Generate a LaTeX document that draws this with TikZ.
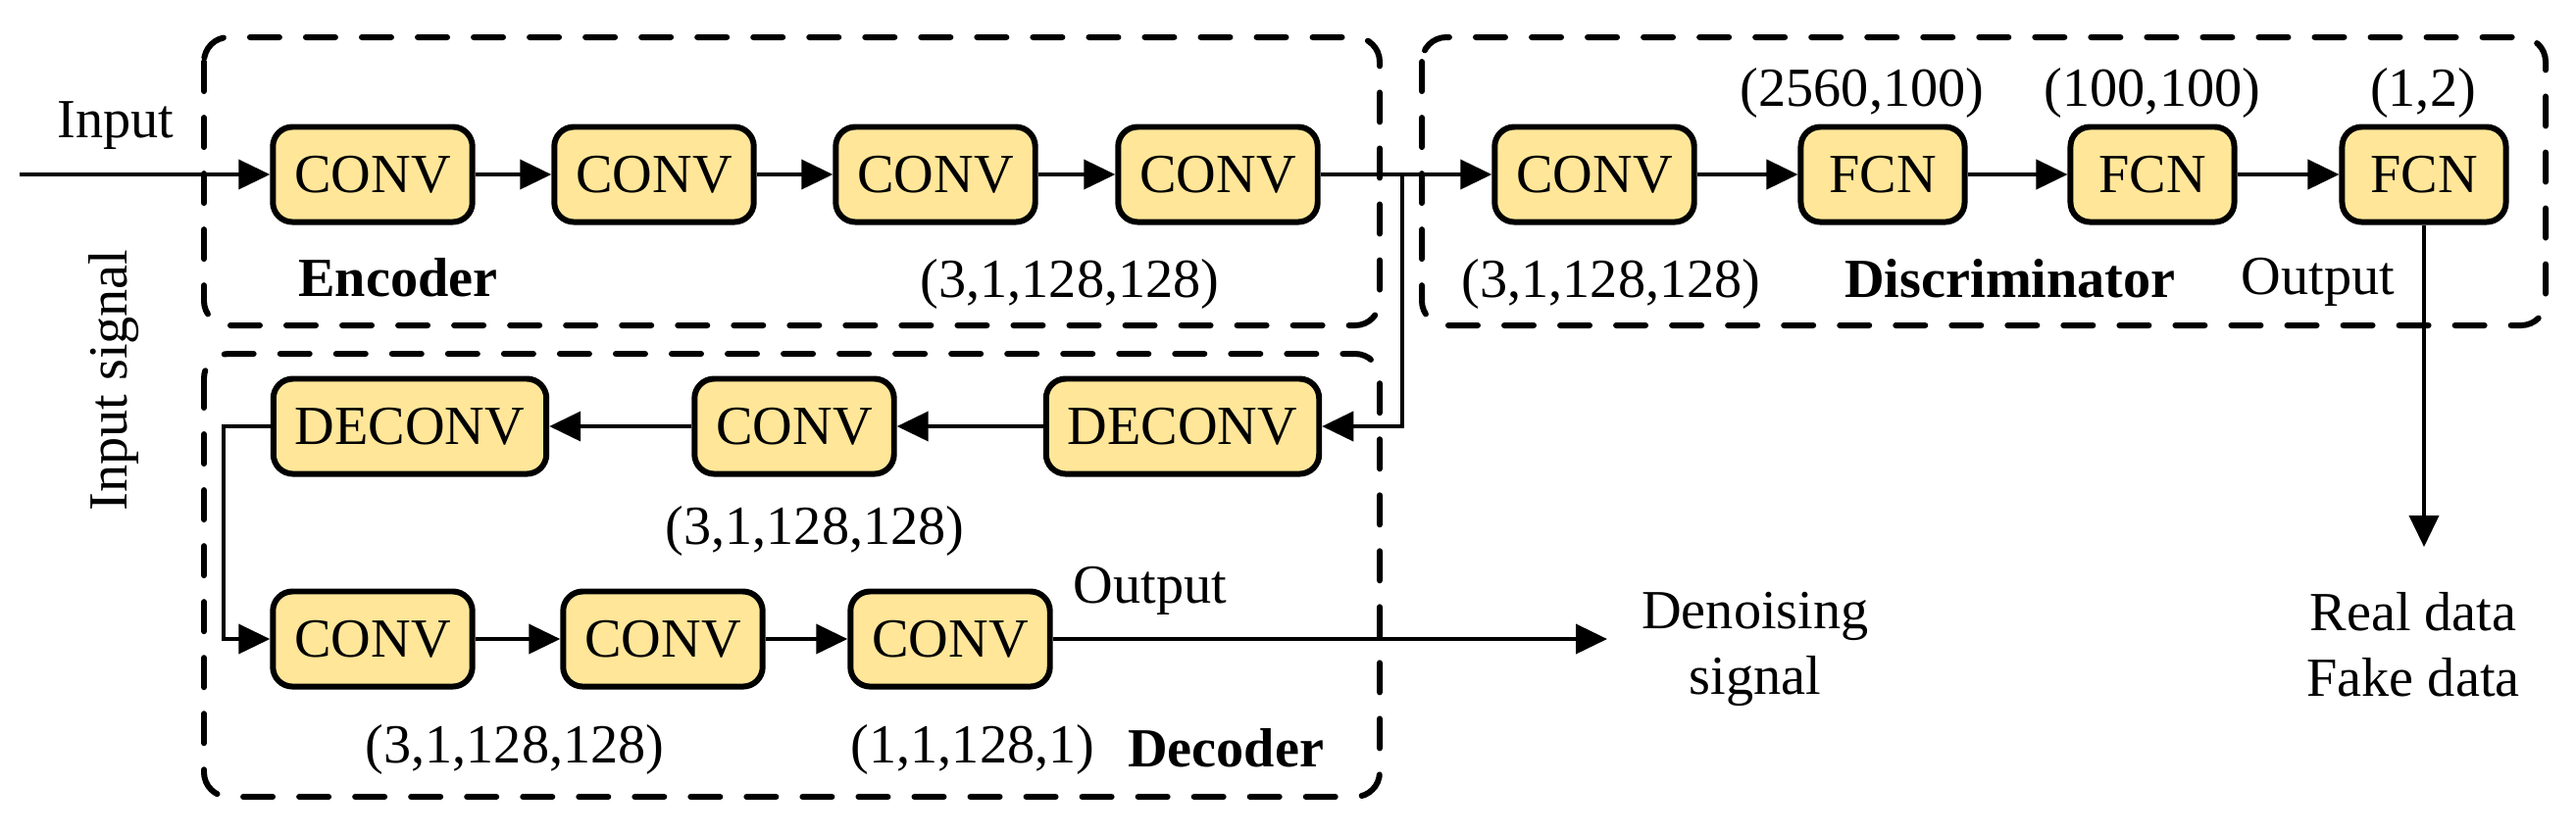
\documentclass[tikz,border=0pt]{standalone}
\usepackage{fontspec}
\setmainfont{Liberation Serif}
\usetikzlibrary{arrows.meta}
\definecolor{boxfill}{RGB}{255,230,153}
\begin{document}
\begin{tikzpicture}[x=0.01cm,y=-0.01cm,
  blk/.style={draw, line width=1.7pt, rounded corners=0.2cm, fill=boxfill, minimum height=0.97cm, inner xsep=0.22cm, inner ysep=0pt, font=\fontsize{16}{19}\selectfont},
  fcn/.style={blk, minimum width=1.67cm},
  grp/.style={draw, line width=1.7pt, dash pattern=on 0.3cm off 0.27cm, line cap=round, rounded corners=0.25cm},
  con/.style={line width=1.1pt, -{Triangle[length=0.32cm,width=0.3cm]}},
  lbl/.style={inner sep=0pt, anchor=base, font=\fontsize{16}{19}\selectfont},
  blbl/.style={lbl, font=\fontsize{16}{19}\selectfont\bfseries}]
\useasboundingbox (0,0) rectangle (2627,850);
% groups
\draw[grp] (208,38) rectangle (1407,332);
\draw[grp] (1450,38) rectangle (2596,332);
\draw[grp] (208,361) rectangle (1407,813);
% encoder
\node[blk] (e1) at (380,178) {CONV};
\node[blk] (e2) at (667,178) {CONV};
\node[blk] (e3) at (954,178) {CONV};
\node[blk] (e4) at (1242,178) {CONV};
% discriminator
\node[blk] (dc) at (1626,178) {CONV};
\node[fcn] (f1) at (1920,178) {FCN};
\node[fcn] (f2) at (2195,178) {FCN};
\node[fcn] (f3) at (2472,178) {FCN};
% decoder
\node[blk] (r1a) at (1206,435) {DECONV};
\node[blk] (r1b) at (810,435) {CONV};
\node[blk] (r1c) at (418,435) {DECONV};
\node[blk] (r2a) at (380,652) {CONV};
\node[blk] (r2b) at (676,652) {CONV};
\node[blk] (r2c) at (969,652) {CONV};
% coordinates
\coordinate (in) at (20,178);
\coordinate (br) at (1430,178);
\coordinate (out) at (1639,652);
\coordinate (rf) at (2472,558);
% connectors
\draw[con] (in) -- (e1);
\draw[con] (e1) -- (e2);
\draw[con] (e2) -- (e3);
\draw[con] (e3) -- (e4);
\draw[con] (e4) -- (dc);
\draw[con] (br) |- (r1a.east);
\draw[con] (dc) -- (f1);
\draw[con] (f1) -- (f2);
\draw[con] (f2) -- (f3);
\draw[con] (f3) -- (rf);
\draw[con] (r1a) -- (r1b);
\draw[con] (r1b) -- (r1c);
\draw[con] (r1c.west) -- ++(-48,0) |- (r2a.west);
\draw[con] (r2a) -- (r2b);
\draw[con] (r2b) -- (r2c);
\draw[con] (r2c) -- (out);
% labels
\node[lbl] (tin) at (118,140) {Input};
\node[lbl, rotate=90] (tsig) at (129,388) {Input signal};
\node[blbl] (tenc) at (406,302) {Encoder};
\node[lbl] (tes) at (1091,303) {(3,1,128,128)};
\node[lbl] (tds) at (1643,303) {(3,1,128,128)};
\node[blbl] (tdis) at (2050,303) {Discriminator};
\node[lbl] (tout1) at (2364,300) {Output};
\node[lbl] (tf1) at (1899,108) {(2560,100)};
\node[lbl] (tf2) at (2195,108) {(100,100)};
\node[lbl] (tf3) at (2471,108) {(1,2)};
\node[lbl] (tr1) at (831,555) {(3,1,128,128)};
\node[lbl] (tout2) at (1173,615) {Output};
\node[lbl] (tden1) at (1790,641) {Denoising};
\node[lbl] (tden2) at (1790,708) {signal};
\node[lbl] (tr2a) at (525,778) {(3,1,128,128)};
\node[lbl] (tr2c) at (992,778) {(1,1,128,1)};
\node[blbl] (tdec) at (1250,782) {Decoder};
\node[lbl] (treal) at (2461,643) {Real data};
\node[lbl] (tfake) at (2461,710) {Fake data};
\end{tikzpicture}
\end{document}
